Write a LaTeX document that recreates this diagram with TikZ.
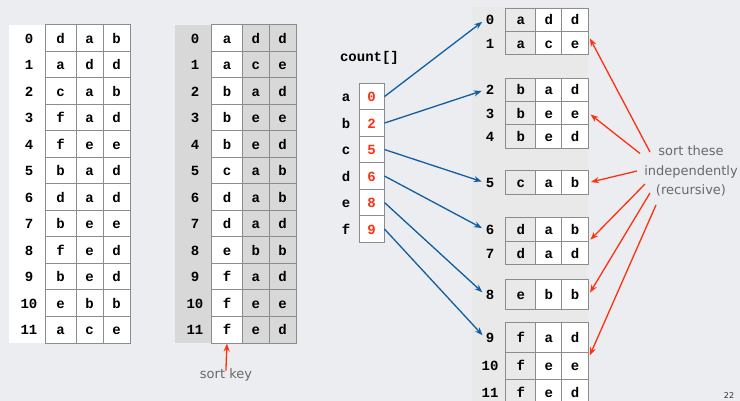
\documentclass[tikz,border=0pt]{standalone}
\usepackage{fontspec}
\newfontfamily\monofont{Liberation Mono}
\newfontfamily\notefont{DejaVu Sans}
\usetikzlibrary{arrows.meta,fit}
\definecolor{bgc}{RGB}{236,237,240}
\definecolor{panelc}{RGB}{233,233,234}
\definecolor{keyc}{RGB}{216,216,216}
\definecolor{gridc}{RGB}{140,140,140}
\definecolor{redc}{RGB}{255,48,16}
\definecolor{bluec}{RGB}{16,94,160}
\definecolor{notec}{RGB}{105,105,105}
\begin{document}
\begin{tikzpicture}[x=1pt,y=-1pt,
  cell/.style={draw=gridc, line width=1pt, inner sep=0pt, minimum height=26.5pt,
    font=\monofont\bfseries\fontsize{14}{16}\selectfont, text height=10pt, text depth=0pt},
  idx/.style={inner sep=1pt, font=\monofont\bfseries\fontsize{14}{16}\selectfont, text height=10pt, text depth=0pt},
  note/.style={inner sep=1pt, text=notec, font=\notefont\fontsize{13}{19.5}\selectfont},
  bluearrow/.style={draw=bluec, line width=1.3pt, -{Stealth[length=8pt,width=6pt]}, shorten >=3pt},
  redarrow/.style={draw=redc, line width=1.3pt, -{Stealth[length=8pt,width=6pt]}, shorten >=2pt}]
\useasboundingbox[fill=bgc] (0,0) rectangle (740,401);
\fill[panelc] (472,7) rectangle (588.3,401);
\fill[white] (9,25) rectangle (45.3,343);
\fill[keyc] (175,25) rectangle (211.7,343);
% left table
\foreach \i/\a/\b/\c in {0/d/a/b,1/a/d/d,2/c/a/b,3/f/a/d,4/f/e/e,5/b/a/d,6/d/a/d,7/b/e/e,8/f/e/d,9/b/e/d,10/e/b/b,11/a/c/e}{
  \pgfmathsetmacro\yy{38.25+26.5*\i}
  \node[idx] (Li\i) at (29,\yy) {\i};
  \node[cell, fill=white, minimum width=30.7pt] (La\i) at (60.65,\yy) {\a};
  \node[cell, fill=white, minimum width=27pt] (Lb\i) at (89.5,\yy) {\b};
  \node[cell, fill=white, minimum width=27pt] (Lc\i) at (116.5,\yy) {\c};
}
% second table
\foreach \i/\a/\b/\c in {0/a/d/d,1/a/c/e,2/b/a/d,3/b/e/e,4/b/e/d,5/c/a/b,6/d/a/b,7/d/a/d,8/e/b/b,9/f/a/d,10/f/e/e,11/f/e/d}{
  \pgfmathsetmacro\yy{38.25+26.5*\i}
  \node[idx] (Mi\i) at (195,\yy) {\i};
  \node[cell, fill=white, minimum width=30.6pt] (Ma\i) at (227,\yy) {\a};
  \node[cell, fill=keyc, minimum width=27pt] (Mb\i) at (255.8,\yy) {\b};
  \node[cell, fill=keyc, minimum width=26.7pt] (Mc\i) at (282.65,\yy) {\c};
}
\node[note] (sk) at (226,375) {sort key};
\draw[redarrow, shorten <=-3pt, shorten >=0pt] (sk.north) -- (Ma11.south);
% count array
\node[idx] (cnt) at (369.5,57) {count[]};
\foreach \i/\l/\v in {0/a/0,1/b/2,2/c/5,3/d/6,4/e/8,5/f/9}{
  \pgfmathsetmacro\yy{96.55+26.5*\i}
  \node[idx] (CL\i) at (346,\yy) {\l};
  \node[cell, fill=white, text=redc, minimum width=24.7pt] (C\i) at (371.65,\yy) {\v};
}
% right tables
\foreach \i/\y/\h/\a/\b/\c in {0/20/23.4/a/d/d,1/43.35/23.3/a/c/e,2/90/23.4/b/a/d,3/113.35/23.3/b/e/e,4/136.65/23.3/b/e/d,5/182.5/23.6/c/a/b,6/229.5/24.4/d/a/b,7/253.35/23.3/d/a/d,8/294.3/30/e/b/b,9/337.4/29.8/f/a/d,10/365.65/26.7/f/e/e,11/392.5/27/f/e/d}{
  \node[idx] (Ri\i) at (490,\y) {\i};
  \node[cell, fill=panelc, minimum width=30pt, minimum height=\h pt] (Ra\i) at (520.7,\y) {\a};
  \node[cell, fill=white, minimum width=26pt, minimum height=\h pt] (Rb\i) at (548.7,\y) {\b};
  \node[cell, fill=white, minimum width=26.6pt, minimum height=\h pt] (Rc\i) at (575,\y) {\c};
}
\node[fit=(Ra0)(Rc1), inner sep=0pt] (G1) {};
\node[fit=(Ra2)(Rc4), inner sep=0pt] (G2) {};
\node[fit=(Ra5)(Rc5), inner sep=0pt] (G3) {};
\node[fit=(Ra6)(Rc7), inner sep=0pt] (G4) {};
\node[fit=(Ra8)(Rc8), inner sep=0pt] (G5) {};
\node[fit=(Ra9)(Rc11), inner sep=0pt] (G6) {};
% blue arrows
\draw[bluearrow] (C0.east) -- (Ri0.west);
\draw[bluearrow] (C1.east) -- (Ri2.west);
\draw[bluearrow] (C2.east) -- (Ri5.west);
\draw[bluearrow] (C3.east) -- (Ri6.west);
\draw[bluearrow] (C4.east) -- (Ri8.west);
\draw[bluearrow] (C5.east) -- (Ri9.west);
% note and red arrows
\node[note, align=center] (sortnote) at (691,171) {sort these\\independently\\(recursive)};
\coordinate (s1) at (650,152);
\coordinate (s2) at (640,153.5);
\coordinate (s3) at (637,171);
\coordinate (s4) at (645,184);
\coordinate (s5) at (650,193);
\coordinate (s6) at (656,205);
\draw[redarrow] (s1) -- ([yshift=-5pt]G1.east);
\draw[redarrow] (s2) -- (G2.east);
\draw[redarrow] (s3) -- (G3.east);
\draw[redarrow] (s4) -- (G4.east);
\draw[redarrow] (s5) -- (G5.east);
\draw[redarrow] (s6) -- ([yshift=7pt]G6.east);
\node[inner sep=0pt, font=\notefont\fontsize{8}{10}\selectfont, text=black!80] (pg) at (729,395.5) {22};
\end{tikzpicture}
\end{document}
